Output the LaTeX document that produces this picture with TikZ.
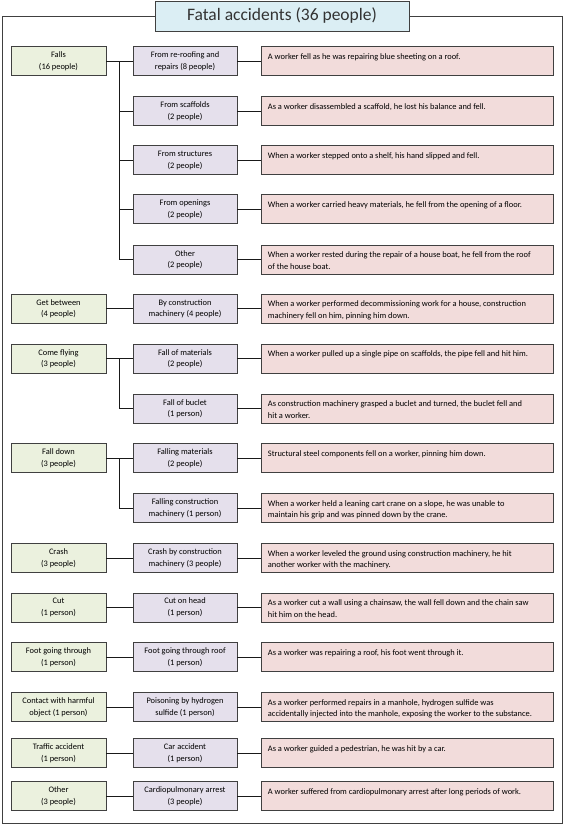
\documentclass[tikz,border=0pt]{standalone}
\usepackage{fontspec}
\setmainfont{Carlito}
\usetikzlibrary{calc}
\definecolor{greenbox}{HTML}{EBF1DE}
\definecolor{purplebox}{HTML}{E5E0EC}
\definecolor{pinkbox}{HTML}{F2DCDB}
\definecolor{titlebox}{HTML}{DBEEF4}
\definecolor{edgegray}{HTML}{404040}
\newcommand\desctext[1]{\parbox[c][23pt][t]{279pt}{\vspace*{1.2pt}\begin{tabular}[t]{@{}l@{}}#1\end{tabular}}}
\tikzset{
  catbox/.style={draw=edgegray, line width=0.9pt, fill=greenbox, minimum width=95pt, minimum height=29pt,
    inner sep=1pt, align=center, text=black, font=\fontsize{8.4}{11.7}\selectfont},
  subbox/.style={catbox, fill=purplebox, minimum width=104pt},
  descbox/.style={draw=edgegray, line width=0.9pt, fill=pinkbox, minimum width=292pt, minimum height=29pt,
    inner xsep=6.5pt, inner ysep=3pt, anchor=west, text=black, font=\fontsize{8.4}{11.9}\selectfont},
  titlestyle/.style={draw=edgegray, line width=0.9pt, fill=titlebox, minimum width=254pt, minimum height=30pt,
    text=black!80, font=\fontsize{17.5}{20}\selectfont},
  link/.style={line width=0.9pt, black!90},
  framestyle/.style={draw=edgegray, line width=0.8pt}
}
\begin{document}
\begin{tikzpicture}[x=1pt,y=-1pt]
\useasboundingbox (0,0) rectangle (565,825);
\draw[framestyle] (2,16) rectangle (562.5,823.5);
\node[titlestyle] (title) at (282,16) {Fatal accidents (36 people)};

% categories
\node[catbox] (g1) at (58.5,61.2) {Falls\\(16 people)};
\node[catbox] (g2) at (58.5,308.8) {Get between\\(4 people)};
\node[catbox] (g3) at (58.5,358.8) {Come flying\\(3 people)};
\node[catbox] (g4) at (58.5,458) {Fall down\\(3 people)};
\node[catbox] (g5) at (58.5,558) {Crash\\(3 people)};
\node[catbox] (g6) at (58.5,607.5) {Cut\\(1 person)};
\node[catbox] (g7) at (58.5,657.2) {Foot going through\\(1 person)};
\node[catbox] (g8) at (58.5,707) {Contact with harmful\\object (1 person)};
\node[catbox] (g9) at (58.5,753) {Traffic accident\\(1 person)};
\node[catbox] (g10) at (58.5,796.3) {Other\\(3 people)};

% subcategories
\node[subbox] (p1) at (185,61.2) {From re-roofing and\\repairs (8 people)};
\node[subbox] (p2) at (185,111.2) {From scaffolds\\(2 people)};
\node[subbox] (p3) at (185,160.3) {From structures\\(2 people)};
\node[subbox] (p4) at (185,209.2) {From openings\\(2 people)};
\node[subbox] (p5) at (185,259.7) {Other\\(2 people)};
\node[subbox] (p6) at (185,308.8) {By construction\\machinery (4 people)};
\node[subbox] (p7) at (185,358.8) {Fall of materials\\(2 people)};
\node[subbox] (p8) at (185,408.8) {Fall of buclet\\(1 person)};
\node[subbox] (p9) at (185,458) {Falling materials\\(2 people)};
\node[subbox] (p10) at (185,508) {Falling construction\\machinery (1 person)};
\node[subbox] (p11) at (185,558) {Crash by construction\\machinery (3 people)};
\node[subbox] (p12) at (185,607.5) {Cut on head\\(1 person)};
\node[subbox] (p13) at (185,657.2) {Foot going through roof\\(1 person)};
\node[subbox] (p14) at (185,707) {Poisoning by hydrogen\\sulfide (1 person)};
\node[subbox] (p15) at (185,753) {Car accident\\(1 person)};
\node[subbox] (p16) at (185,796.3) {Cardiopulmonary arrest\\(3 people)};

% descriptions
\node[descbox] (d1) at (261,61.2) {\desctext{A worker fell as he was repairing blue sheeting on a roof.}};
\node[descbox] (d2) at (261,111.2) {\desctext{As a worker disassembled a scaffold, he lost his balance and fell.}};
\node[descbox] (d3) at (261,160.3) {\desctext{When a worker stepped onto a shelf, his hand slipped and fell.}};
\node[descbox] (d4) at (261,209.2) {\desctext{When a worker carried heavy materials, he fell from the opening of a floor.}};
\node[descbox] (d5) at (261,259.7) {\desctext{When a worker rested during the repair of a house boat, he fell from the roof\\of the house boat.}};
\node[descbox] (d6) at (261,308.8) {\desctext{When a worker performed decommissioning work for a house, construction\\machinery fell on him, pinning him down.}};
\node[descbox] (d7) at (261,358.8) {\desctext{When a worker pulled up a single pipe on scaffolds, the pipe fell and hit him.}};
\node[descbox] (d8) at (261,408.8) {\desctext{As construction machinery grasped a buclet and turned, the buclet fell and\\hit a worker.}};
\node[descbox] (d9) at (261,458) {\desctext{Structural steel components fell on a worker, pinning him down.}};
\node[descbox] (d10) at (261,508) {\desctext{When a worker held a leaning cart crane on a slope, he was unable to\\maintain his grip and was pinned down by the crane.}};
\node[descbox] (d11) at (261,558) {\desctext{When a worker leveled the ground using construction machinery, he hit\\another worker with the machinery.}};
\node[descbox] (d12) at (261,607.5) {\desctext{As a worker cut a wall using a chainsaw, the wall fell down and the chain saw\\hit him on the head.}};
\node[descbox] (d13) at (261,657.2) {\desctext{As a worker was repairing a roof, his foot went through it.}};
\node[descbox] (d14) at (261,707) {\desctext{As a worker performed repairs in a manhole, hydrogen sulfide was\\accidentally injected into the manhole, exposing the worker to the substance.}};
\node[descbox] (d15) at (261,753) {\desctext{As a worker guided a pedestrian, he was hit by a car.}};
\node[descbox] (d16) at (261,796.3) {\desctext{A worker suffered from cardiopulmonary arrest after long periods of work.}};

% branch points
\coordinate (b1) at (119,61.2);
\coordinate (b3) at (119,358.8);
\coordinate (b4) at (119,458);

% connectors category -> subcategory
\draw[link] (g1.east) -- (p1.west);
\draw[link] (b1) |- (p2.west);
\draw[link] (b1) |- (p3.west);
\draw[link] (b1) |- (p4.west);
\draw[link] (b1) |- (p5.west);
\draw[link] (g2.east) -- (p6.west);
\draw[link] (g3.east) -- (p7.west);
\draw[link] (b3) |- (p8.west);
\draw[link] (g4.east) -- (p9.west);
\draw[link] (b4) |- (p10.west);
\draw[link] (g5.east) -- (p11.west);
\draw[link] (g6.east) -- (p12.west);
\draw[link] (g7.east) -- (p13.west);
\draw[link] (g8.east) -- (p14.west);
\draw[link] (g9.east) -- (p15.west);
\draw[link] (g10.east) -- (p16.west);

% connectors subcategory -> description
\foreach \i in {1,...,16} {\draw[link] (p\i.east) -- (d\i.west);}
\end{tikzpicture}
\end{document}
